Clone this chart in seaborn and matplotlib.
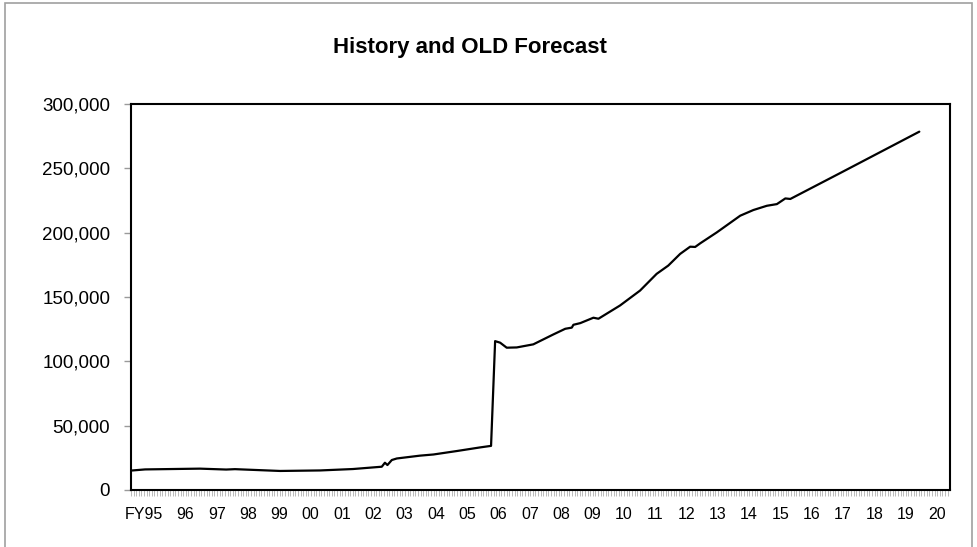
import matplotlib
matplotlib.use("Agg")
import matplotlib.pyplot as plt
import matplotlib.ticker as mticker
from matplotlib.patches import Rectangle
import numpy as np
import pandas as pd
import seaborn as sns

# ---- data ----
years = [1994.26, 1994.71, 1996.46, 1997.30, 1997.58, 1999.02, 2000.30, 2001.35,
         2002.27, 2002.37, 2002.45, 2002.59, 2002.75, 2003.49, 2003.92, 2004.67,
         2005.41, 2005.76, 2005.89, 2006.05, 2006.26, 2006.58, 2007.11, 2007.75,
         2008.13, 2008.34, 2008.39, 2008.61, 2009.03, 2009.19, 2009.88, 2010.52,
         2011.05, 2011.42, 2011.80, 2012.12, 2012.28, 2012.44, 2012.97, 2013.72,
         2014.14, 2014.57, 2014.89, 2015.16, 2015.32, 2016.91, 2019.44]
values = [15100, 16000, 16600, 15900, 16200, 14800, 15200, 16300,
          18100, 21200, 19400, 23300, 24500, 26700, 27600, 30300,
          33100, 34300, 115700, 114500, 110600, 110800, 113200, 120900,
          125300, 126200, 128400, 129700, 133900, 133100, 143400, 155000,
          168000, 174400, 183500, 189100, 188900, 191700, 200200, 213200,
          217600, 220900, 222200, 226600, 226200, 246300, 278500]

tick_labels = ["FY95", "96", "97", "98", "99", "00", "01", "02", "03", "04",
               "05", "06", "07", "08", "09", "10", "11", "12", "13", "14",
               "15", "16", "17", "18", "19", "20"]
title = "History and OLD Forecast"

df = pd.DataFrame({"year": years, "value": values})

sns.set_theme(style="white")
plt.rcParams["font.family"] = ["Liberation Sans", "DejaVu Sans"]
plt.rcParams["text.color"] = "black"
plt.rcParams["xtick.labelcolor"] = "black"
plt.rcParams["ytick.labelcolor"] = "black"

fig = plt.figure(figsize=(9.78, 5.47), dpi=100)
ax = fig.add_axes([131 / 978, 1 - 490 / 547, (950 - 131) / 978, (490 - 104) / 547])

sns.lineplot(data=df, x="year", y="value", ax=ax, color="black", linewidth=1.6,
             estimator=None, sort=False)

x0, x1 = 1994.259, 2020.42
ax.set_xlim(x0, x1)
ax.set_ylim(0, 300000)

# y axis
ax.set_yticks(np.arange(0, 300001, 50000))
ax.yaxis.set_major_formatter(mticker.FuncFormatter(lambda v, p: f"{int(v):,}"))
ax.tick_params(axis="y", which="major", direction="out", length=5, width=1,
               color="#9a9a9a", labelsize=13.5, labelcolor="black", pad=10, left=True)

# x axis: labels per fiscal year, monthly minor ticks
label_pos = [1994.67] + list(range(1996, 2021))
ax.set_xticks(label_pos)
ax.set_xticklabels(tick_labels, family=["Liberation Sans Narrow", "Liberation Sans"],
                   fontsize=11.5, color="black")
ax.set_xticks(np.arange(x0, x1, 1 / 12), minor=True)
ax.tick_params(axis="x", which="major", length=0, pad=12)
ax.tick_params(axis="x", which="minor", direction="out", length=4, width=0.6,
               color="#b0b0b0", bottom=True)

ax.set_xlabel("")
ax.set_ylabel("")
for s in ax.spines.values():
    s.set_visible(True)
    s.set_color("black")
    s.set_linewidth(1.5)

fig.text(470 / 978, 1 - 47 / 547, title, ha="center", va="center",
         fontsize=16, fontweight="bold", color="black")

fig.patches.append(Rectangle((5 / 978, -0.02), 967 / 978, 1 - 3 / 547 + 0.02,
                             transform=fig.transFigure, fill=False,
                             edgecolor="#a0a0a0", linewidth=1.2))

fig.savefig("out.png", dpi=100)
